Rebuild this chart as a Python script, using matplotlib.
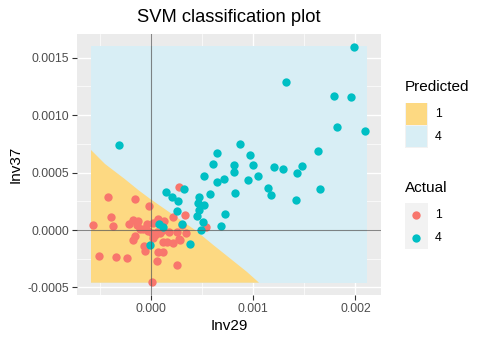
import matplotlib
matplotlib.use("Agg")
import matplotlib.pyplot as plt
from matplotlib.patches import Rectangle
from matplotlib.lines import Line2D

plt.rcParams['font.family'] = ['Liberation Sans', 'DejaVu Sans']

# Actual class 1 (red) - Inv29 / Inv37
red_x = [-0.000572, -0.000421, -0.000394, -0.000375, -0.000512, -0.000340, -0.000235,
         -0.000154, -0.000017, -0.000220, -0.000173, -0.000124, -0.000140, -0.000108,
         -0.000042, -0.000157, -0.000173, -0.000068, -0.000056, 0.000056, 0.000073,
         0.000113, 0.000257, 0.000010, 0.000336, 0.000277, 0.000218, 0.000300,
         0.000120, 0.000154, 0.000218, 0.000274, 0.000342, 0.000251, 0.000173,
         0.000056, 0.000007, -0.000026, -0.000075, 0.000023, 0.000071, 0.000120,
         0.000023, 0.000538, 0.000130, 0.000088, 0.000284, 0.000039, 0.000105, 0.000066]
red_y = [0.000044, 0.000287, 0.000116, 0.000032, -0.000229, -0.000235, -0.000241,
         0.000270, 0.000213, 0.000050, 0.000087, 0.000078, 0.000044, 0.000011,
         0.000050, -0.000048, -0.000091, -0.000139, -0.000179, -0.000270, -0.000189,
         -0.000189, -0.000309, -0.000453, 0.000128, 0.000377, 0.000111, 0.000044,
         -0.000102, -0.000102, -0.000116, -0.000076, -0.000024, -0.000015, -0.000015,
         -0.000015, -0.000029, -0.000009, 0.000006, 0.000058, 0.000087, 0.000000,
         -0.000072, 0.000030, 0.000081, -0.000029, -0.000087, -0.000044, 0.000058, 0.000098]

# Actual class 4 (teal)
teal_x = [0.001989, 0.001321, 0.001791, 0.001954, 0.001823, 0.002094, 0.000874, 0.001631,
          0.000972, 0.000812, 0.000812, 0.000998, 0.001201, 0.001289, 0.001475, 0.001426,
          0.001047, 0.000949, 0.001145, 0.001657, 0.000822, 0.001171, 0.001422, 0.000643,
          0.000604, 0.000522, 0.000643, 0.000717, 0.000323, 0.000577, 0.000467, 0.000463,
          0.000522, 0.000473, 0.000453, 0.000724, 0.000506, 0.000688, 0.000489, 0.000303,
          0.000379, 0.000144, 0.000205, 0.000267, 0.000257, 0.000081, 0.000114, -0.000010,
          -0.000313]
teal_y = [0.001597, 0.001289, 0.001170, 0.001159, 0.000900, 0.000865, 0.000752, 0.000691,
          0.000656, 0.000566, 0.000503, 0.000569, 0.000549, 0.000534, 0.000560, 0.000499,
          0.000470, 0.000436, 0.000366, 0.000355, 0.000320, 0.000302, 0.000261, 0.000668,
          0.000578, 0.000473, 0.000418, 0.000447, 0.000355, 0.000314, 0.000285, 0.000233,
          0.000220, 0.000177, 0.000122, 0.000137, 0.000067, 0.000035, 0.000000, 0.000050,
          -0.000125, 0.000328, 0.000290, 0.000250, 0.000163, 0.000050, 0.000029, -0.000133,
          0.000740]

# predicted-region extent and class boundary
grid_x = [-0.000587, 0.002113]
grid_y = [-0.000459, 0.001605]
bound_x = [-0.000587, -0.000450, -0.000254, -0.000124, -0.000007, 0.000431, 0.000610,
           0.000773, 0.000936, 0.001057]
bound_y = [0.000697, 0.000575, 0.000442, 0.000348, 0.000270, 0.000000, -0.000131,
           -0.000247, -0.000363, -0.000459]

yellow = '#FDD982'
blue = '#D8EEF5'
red = '#F8766D'
teal = '#00BFC4'

W, H = 488, 341
fig = plt.figure(figsize=(W / 100, H / 100), dpi=100)
ax = fig.add_axes([77 / W, 1 - 295 / H, 303.7 / W, 261 / H])
ax.set_facecolor('#EBEBEB')
ax.set_xlim(-0.000724, 0.002247)
ax.set_ylim(-0.000566, 0.001707)

ax.set_xticks([0, 0.001, 0.002])
ax.set_xticklabels(['0.000', '0.001', '0.002'])
ax.set_xticks([-0.0005, 0.0005, 0.0015], minor=True)
ax.set_yticks([-0.0005, 0, 0.0005, 0.001, 0.0015])
ax.set_yticklabels(['-0.0005', '0.0000', '0.0005', '0.0010', '0.0015'])
ax.set_yticks([-0.00025, 0.00025, 0.00075, 0.00125], minor=True)
ax.set_axisbelow(True)
ax.grid(which='major', color='white', lw=1.0)
ax.grid(which='minor', color='white', lw=0.5)
ax.tick_params(which='major', length=3.5, width=0.8, color='#333333',
               labelcolor='#4D4D4D', labelsize=8.8, pad=2)
ax.tick_params(which='minor', length=0)
for s in ax.spines.values():
    s.set_visible(False)

# predicted regions
ax.fill_between(grid_x, grid_y[0], grid_y[1], color=blue, lw=0, zorder=1)
poly_x = bound_x + [bound_x[0]]
poly_y = bound_y + [bound_y[-1]]
ax.fill(poly_x, poly_y, color=yellow, lw=0, zorder=1.1)

ax.scatter(red_x, red_y, s=36, color=red, linewidths=0, zorder=3)
ax.scatter(teal_x, teal_y, s=36, color=teal, linewidths=0, zorder=3)

ax.axhline(0, color='#555555', lw=0.8, alpha=0.7, zorder=4)
ax.axvline(0, color='#555555', lw=0.8, alpha=0.7, zorder=4)

# titles
cx = (77 + 380.7) / 2 / W
fig.text(cx, 1 - 17 / H, 'SVM classification plot', fontsize=13.2, ha='center', va='center')
fig.text(cx, 1 - 326 / H, 'Inv29', fontsize=11, ha='center', va='center')
fig.text(16 / W, 1 - 164.5 / H, 'Inv37', fontsize=11, ha='center', va='center', rotation=90)


def px(x, y):
    return x / W, 1 - y / H


# legend: Predicted
fig.text(*px(405, 87), 'Predicted', fontsize=11, ha='left', va='center')
for i, (c, lab) in enumerate([(yellow, '1'), (blue, '4')]):
    y0 = 102.7 + i * 22.7
    fig.add_artist(Rectangle(px(405, y0 + 22.7), 22.7 / W, 22.7 / H,
                             transform=fig.transFigure, facecolor='#F2F2F2', lw=0))
    fig.add_artist(Rectangle(px(405.7, y0 + 22.0), 21.3 / W, 21.3 / H,
                             transform=fig.transFigure, facecolor=c, lw=0))
    fig.text(*px(435, y0 + 11.5), lab, fontsize=8.8, ha='left', va='center')

# legend: Actual
fig.text(*px(405, 188.5), 'Actual', fontsize=11, ha='left', va='center')
fig.add_artist(Rectangle(px(405, 248.5), 22.7 / W, 45.4 / H,
                         transform=fig.transFigure, facecolor='#F2F2F2', lw=0))
for i, (c, lab) in enumerate([(red, '1'), (teal, '4')]):
    yc = 215 + i * 23.2
    fig.add_artist(Line2D([416 / W], [1 - yc / H], transform=fig.transFigure,
                          marker='o', markersize=6, color=c, markeredgewidth=0, lw=0))
    fig.text(*px(435, yc), lab, fontsize=8.8, ha='left', va='center')

fig.savefig('out.png', dpi=100)
